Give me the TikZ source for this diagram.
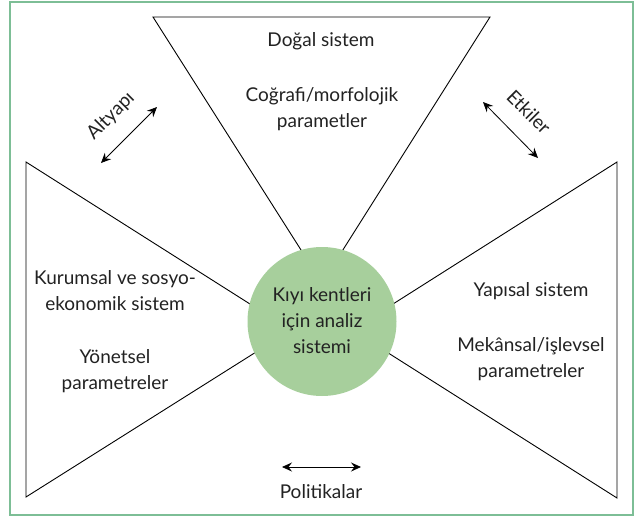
\documentclass[tikz,border=0pt]{standalone}
\usepackage{fontspec}
\setmainfont{Lato}
\usetikzlibrary{arrows.meta}
\definecolor{framegreen}{HTML}{7DBE96}
\definecolor{circgreen}{HTML}{A7CF9C}
\definecolor{txt}{HTML}{222222}
\tikzset{
  tri/.style={draw=black, line width=0.9pt, fill=white, line join=miter},
  lbl/.style={inner sep=0pt, align=center, text=txt, font=\fontsize{19}{26}\selectfont},
  dbl/.style={{Stealth[length=10pt,width=9pt,inset=3.5pt]}-{Stealth[length=10pt,width=9pt,inset=3.5pt]}, line width=0.8pt},
}
\begin{document}
\begin{tikzpicture}[x=1pt,y=-1pt]
\useasboundingbox (0,0) rectangle (638,517);
\draw[framegreen, line width=1.6pt] (10,2) rectangle (633,515);
% triangles
\draw[tri] (153,17) -- (490,17) -- (322,283) -- cycle;
\draw[tri] (26,162) -- (26,497) -- (291,330) -- cycle;
\draw[tri] (617,162) -- (617,498) -- (352,330) -- cycle;
% circle
\node[circle, fill=circgreen, minimum size=149pt, inner sep=0pt] (core) at (322,321.5) {};
\node[lbl] (coretext) at (322,320.5) {Kıyı kentleri\\için analiz\\sistemi};
% texts
\node[lbl] (dogal) at (321,41) {Doğal sistem};
\node[lbl] (cografi) at (322,109) {Coğrafi/morfolojik\\parametler};
\node[lbl] (kurumsal) at (115,291) {Kurumsal ve sosyo-\\ekonomik sistem};
\node[lbl] (yonetsel) at (115,371.5) {Yönetsel\\parametreler};
\node[lbl] (yapisal) at (531,291) {Yapısal sistem};
\node[lbl] (mekansal) at (531,359.5) {Mekânsal/işlevsel\\parametreler};
\node[lbl] (politikalar) at (321,492) {Politikalar};
\node[lbl, rotate=45] (altyapi) at (111,116) {Altyapı};
\node[lbl, rotate=-45] (etkiler) at (529,112) {Etkiler};
% arrows
\coordinate (a1) at (101,163); \coordinate (a2) at (157,107);
\coordinate (e1) at (483,102); \coordinate (e2) at (538,158);
\coordinate (p1) at (282,467); \coordinate (p2) at (361,467);
\draw[dbl] (a1) -- (a2);
\draw[dbl] (e1) -- (e2);
\draw[dbl] (p1) -- (p2);
\end{tikzpicture}
\end{document}
